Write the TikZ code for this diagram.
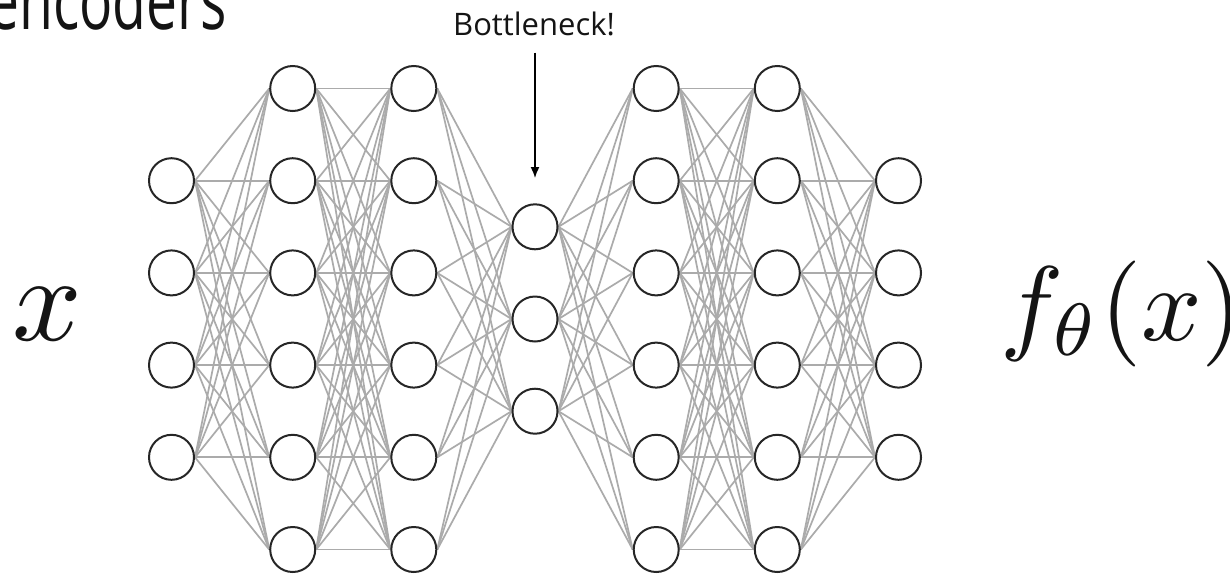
\documentclass[tikz,border=0pt]{standalone}
\usepackage{fontspec}
\usetikzlibrary{arrows.meta}
\newfontfamily\opensans{Open Sans}
\pgfdeclarelayer{background}
\pgfsetlayers{background,main}
\begin{document}
\begin{tikzpicture}[x=1pt,y=-1pt,
  neuron/.style={circle,draw=black!85,line width=2pt,fill=white,minimum size=45pt,inner sep=0pt},
  conn/.style={draw=black!33,line width=1.7pt},
  pointer/.style={draw=black,line width=1.5pt,-{Latex[length=11pt,width=9pt]}},
  lbl/.style={inner sep=0pt,text=black!92}
  ]
\useasboundingbox (0,0) rectangle (1230,573);
\clip (0,0) rectangle (1230,573);
% neurons
\foreach \n/\x/\k in {1/171.5/4, 2/292.7/6, 3/413.8/6, 4/535/3, 5/656.2/6, 6/777.3/6, 7/898.5/4}{
  \foreach \i in {1,...,\k}{
    \node[neuron] (L\n-\i) at (\x, {319 + (\i - (\k+1)/2)*92.2}) {};
  }
}
% connections
\begin{pgfonlayer}{background}
\fill[white] (0,0) rectangle (1230,573);
\foreach \a/\ka/\b/\kb in {1/4/2/6, 2/6/3/6, 3/6/4/3, 4/3/5/6, 5/6/6/6, 6/6/7/4}{
  \foreach \i in {1,...,\ka}{
    \foreach \j in {1,...,\kb}{
      \draw[conn] (L\a-\i.east) -- (L\b-\j.west);
    }
  }
}
\end{pgfonlayer}
% labels
\node[lbl,anchor=base west] (title) at (-12,29) {\opensans\fontsize{80}{80}\selectfont\scalebox{0.69}[1]{encoders}};
\node[lbl,anchor=base] (bl) at (534,35) {\opensans\fontsize{31}{31}\selectfont Bottleneck!};
\coordinate (tip) at (535,178);
\draw[pointer,shorten <=17pt] (bl.south -| tip) -- (tip);
\node[lbl,anchor=base west] (in) at (12,340) {\scalebox{12.2}{$x$}};
\node[lbl,anchor=base west] (out) at (1000,340) {\scalebox{10.6}{$f_\theta(x)$}};
\end{tikzpicture}
\end{document}
